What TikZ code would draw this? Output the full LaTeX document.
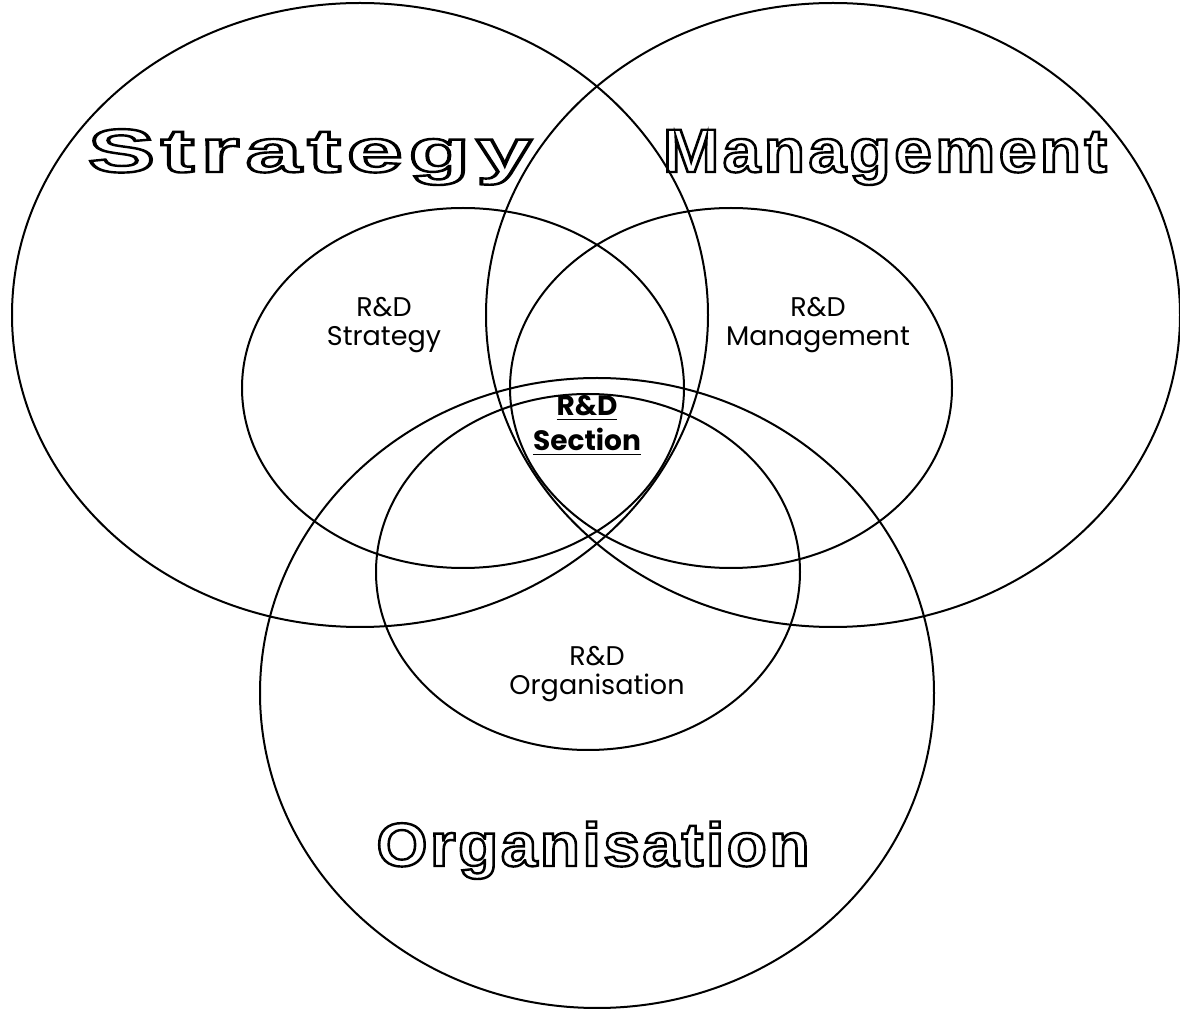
\documentclass[tikz,border=0pt]{standalone}
\usepackage{fontspec}
\usepackage{graphicx}
\setmainfont{Poppins}
\newfontfamily\headfont{Liberation Sans}
\usetikzlibrary{positioning}
% hollow heading: letter spacing, outline only, then stretched to a given width
\newcommand{\hollowword}[3]{\resizebox{#1}{\height}{\headfont\bfseries\addfontfeature{LetterSpace=#2}\special{pdf:code 1 Tr 1.2 w}#3\special{pdf:code 0 Tr}}}
\tikzset{
  ring/.style={line width=1pt, black},
  headword/.style={inner sep=0pt, anchor=base, font=\fontsize{30.7}{36}\selectfont},
  areaword/.style={inner sep=0pt, anchor=base, align=center, font=\fontsize{13.5}{14.5}\selectfont},
  coreword/.style={inner sep=0pt, anchor=base, align=center, font=\fontsize{14}{17.5}\selectfont\bfseries}
}

\begin{document}
\begin{tikzpicture}[x=0.5pt,y=-0.5pt]
    \useasboundingbox (0,0) rectangle (1180,1010);
    % the three fields
    \draw[ring] (360,315) ellipse [x radius=348, y radius=312];
    \draw[ring] (833,315) ellipse [x radius=347, y radius=312];
    \draw[ring] (597,693) ellipse [x radius=337, y radius=315];
    % the R&D parts
    \draw[ring] (463,388) ellipse [x radius=221, y radius=180];
    \draw[ring] (731,388) ellipse [x radius=221, y radius=180];
    \draw[ring] (588,572) ellipse [x radius=212, y radius=178];
    % labels
    \node[headword] (strategy) at (310,172) {\hollowword{222pt}{6}{Strategy}};
    \node[headword] (management) at (885,172) {\hollowword{222pt}{5}{Management}};
    \node[headword] (organisation) at (593,866) {\hollowword{216.5pt}{4}{Organisation}};
    \node[areaword] (rdstrategy) at (384,346) {R\&D\\Strategy};
    \node[areaword] (rdmanagement) at (818,346) {R\&D\\Management};
    \node[areaword] (rdorganisation) at (597,695) {R\&D\\Organisation};
    \node[coreword] (rdsection) at (587,451) {\underline{R\&D}\\\underline{Section}};
\end{tikzpicture}
\end{document}
